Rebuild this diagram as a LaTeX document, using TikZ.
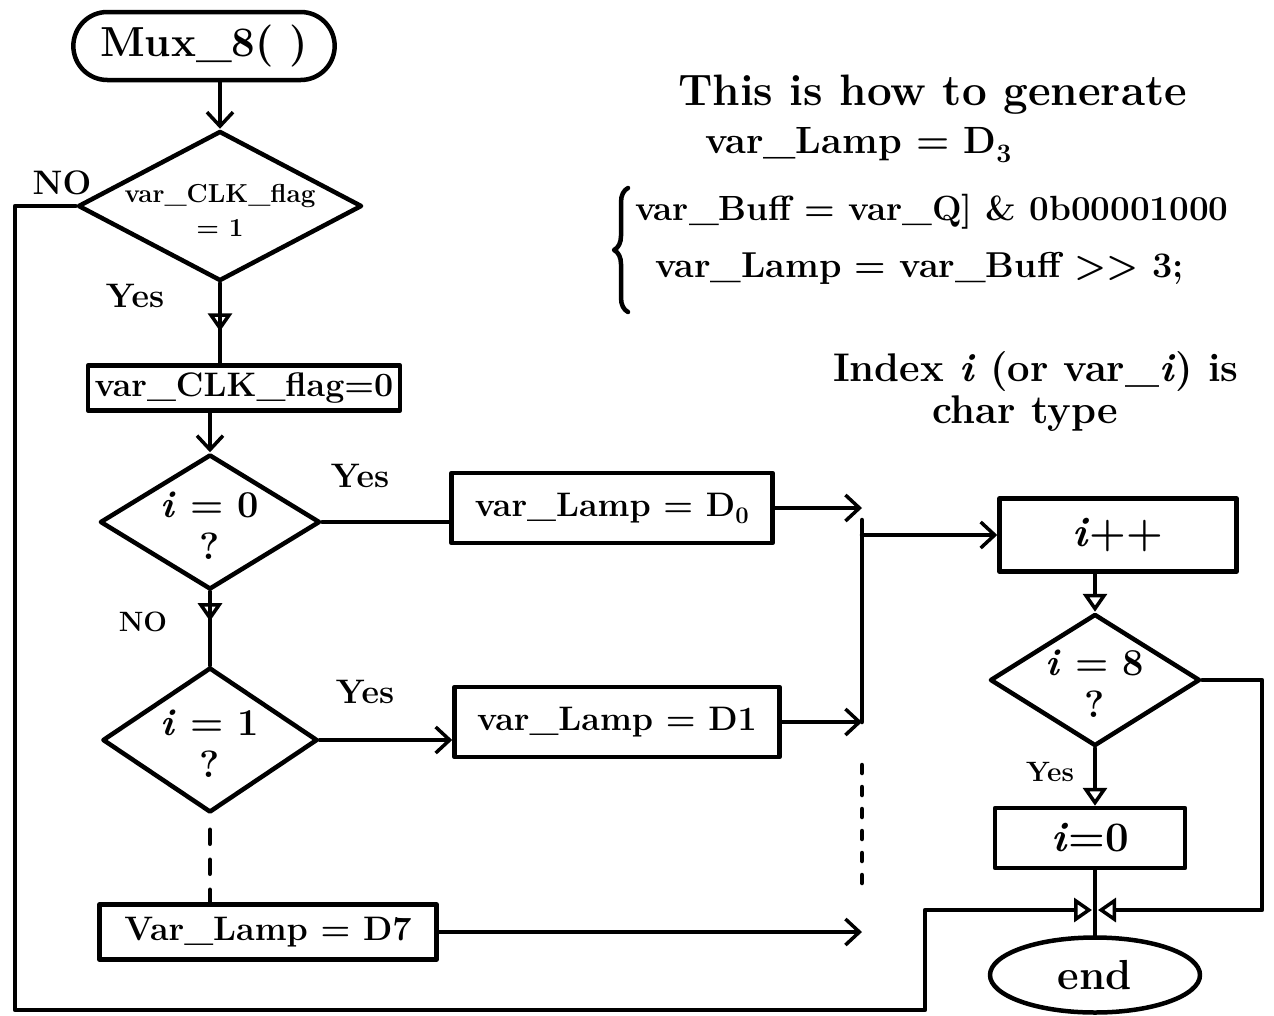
\documentclass[tikz,border=0pt]{standalone}
\usepackage{tikz}
\usetikzlibrary{arrows.meta, positioning, shapes.geometric, shapes.misc, decorations.pathreplacing, decorations.markings}

\newcommand{\handfont}{\fontsize{34}{40}\selectfont\bfseries}
\newcommand{\smallhand}{\fontsize{28}{34}\selectfont\bfseries}
\newcommand{\bighand}{\fontsize{42}{44}\selectfont\bfseries}
\newcommand{\quesfont}{\fontsize{38}{42}\selectfont\bfseries}
\newcommand{\notefont}{\fontsize{36}{42}\selectfont\bfseries}
\newcommand{\ivar}{\textit{i}}

\tikzset{
  line/.style={line width=4.5pt, line cap=round, line join=round},
  flow/.style={line, -{Straight Barb[length=14pt, width=26pt, line width=3.5pt]}},
  openflow/.style={line, -{Triangle[open, length=18pt, width=24pt, line width=3.5pt]}},
  midflow/.style={line, postaction={decorate},
    decoration={markings, mark=at position #1 with {\arrow{Triangle[open, length=18pt, width=24pt, line width=3.5pt]}}}},
  midflow/.default=0.5,
  procbox/.style={draw, line, rectangle, font=\handfont, inner sep=6pt},
  decide/.style={draw, line, diamond, inner sep=0pt},
  lbl/.style={font=\handfont},
  note/.style={font=\notefont, anchor=west, inner sep=0pt},
}

\begin{document}
\begin{tikzpicture}[x=1pt, y=-1pt]
  \clip (0,0) rectangle (1274,1015);

  % left column
  \node[draw, line, rounded rectangle, minimum width=268pt, minimum height=68pt, font=\bighand] (start) at (204,46) {Mux\_8( )};
  \node[decide, minimum width=284pt, minimum height=150pt,
    label={[name=clkqt, font=\fontsize{26}{34}\selectfont\bfseries, align=center, yshift=-4pt]center:{var\_CLK\_flag\\= 1}}] (clkq) at (220,206) {};
  \node[procbox, minimum width=312pt, minimum height=45pt] (clr) at (244,388) {var\_CLK\_flag=0};
  \node[decide, minimum width=220pt, minimum height=135pt,
    label={[name=ieq0t, font=\quesfont, align=center, yshift=-4pt]center:{\ivar{} = 0\\?}}] (ieq0) at (210,522) {};
  \node[decide, minimum width=215pt, minimum height=145pt,
    label={[name=ieq1t, font=\quesfont, align=center, yshift=-4pt]center:{\ivar{} = 1\\?}}] (ieq1) at (210,740) {};
  \node[procbox, minimum width=337pt, minimum height=55pt] (lamp7) at (268,932) {Var\_Lamp = D7};

  % middle column
  \node[procbox, minimum width=321pt, minimum height=70pt] (lamp0) at (612,508) {var\_Lamp = D\textsubscript{0}};
  \node[procbox, minimum width=325pt, minimum height=70pt] (lamp1) at (617,722) {var\_Lamp = D1};
  \coordinate (busT) at (862,520);
  \coordinate (busM) at (862,722);
  \coordinate (busD) at (862,765);
  \coordinate (busB) at (862,895);

  % right column
  \node[procbox, font=\bighand, minimum width=237pt, minimum height=73pt] (inc) at (1118,535) {\ivar++};
  \node[decide, minimum width=210pt, minimum height=132pt,
    label={[name=ieq8t, font=\quesfont, align=center, yshift=-4pt]center:{\ivar{} = 8\\?}}] (ieq8) at (1095,680) {};
  \node[procbox, font=\bighand, minimum width=190pt, minimum height=60pt] (iclr) at (1090,838) {\ivar=0};
  \node[draw, line, ellipse, minimum width=210pt, minimum height=75pt, font=\bighand] (stop) at (1095,975) {end};
  \coordinate (join) at (1095,910);
  \coordinate (loopW) at (15,1010);
  \coordinate (loopS) at (925,910);
  \coordinate (loopE) at (1262,910);

  % labels
  \node[lbl] (no1) at (62,183) {NO};
  \node[lbl] (yes1) at (135,296) {Yes};
  \node[lbl] (yes2) at (360,476) {Yes};
  \node[lbl, font=\smallhand] (no2) at (143,622) {NO};
  \node[lbl] (yes3) at (365,692) {Yes};
  \node[lbl, font=\smallhand] (yes4) at (1050,772) {Yes};

  % connectors
  \draw[flow] (start.south -| clkq.north) -- (clkq.north);
  \draw[midflow=0.6] (clkq.south) -- (clkq.south |- clr.north);
  \draw[flow] (clr.south -| ieq0.north) -- (ieq0.north);
  \draw[line] (ieq0.east) -- (ieq0.east -| lamp0.west);
  \draw[midflow=0.4] (ieq0.south) -- (ieq1.north);
  \draw[flow] (ieq1.east) -- (ieq1.east -| lamp1.west);
  \draw[line, dash pattern=on 14pt off 16pt, shorten <=15pt] (ieq1.south) -- (ieq1.south |- lamp7.north);

  \draw[flow] (lamp0.east) -- (lamp0.east -| busT);
  \draw[flow] (lamp1.east) -- (lamp1.east -| busM);
  \draw[flow] (lamp7.east) -- (lamp7.east -| busB);
  \draw[line] (busT) -- (busM);
  \draw[line, dash pattern=on 8pt off 14pt] (busD) -- (busB);
  \draw[flow] (inc.west -| busT) -- (inc.west);

  \draw[openflow] (inc.south -| ieq8.north) -- (ieq8.north);
  \draw[openflow] (ieq8.south) -- (ieq8.south |- iclr.north);
  \draw[line] (iclr.south -| stop.north) -- (stop.north);
  \draw[openflow, shorten >=3pt] (ieq8.east) -| (loopE) -- (join);
  \draw[openflow, shorten >=3pt] (clkq.west) -| (loopW) -| (loopS) -- (join);

  % notes
  \node[note, font=\fontsize{44}{50}\selectfont\bfseries] (note1) at (678,95) {This is how to generate};
  \node[note, font=\fontsize{38}{44}\selectfont\bfseries] (note2) at (705,145) {var\_Lamp = D\textsubscript{3}};
  \node[note, font=\fontsize{35}{40}\selectfont\bfseries] (note3) at (635,212) {var\_Buff = var\_Q] \& 0b00001000};
  \node[note] (note4) at (655,268) {var\_Lamp = var\_Buff {>}{>} 3;};
  \draw[line, decorate, decoration={brace, amplitude=14pt}] (628,312) -- (628,188);
  \node[note, font=\fontsize{40}{46}\selectfont\bfseries] (note5) at (833,372) {Index \ivar{} (or var\_\ivar) is};
  \node[note, anchor=center, font=\fontsize{40}{46}\selectfont\bfseries] (note6) at (1025,414) {char type};
\end{tikzpicture}
\end{document}
